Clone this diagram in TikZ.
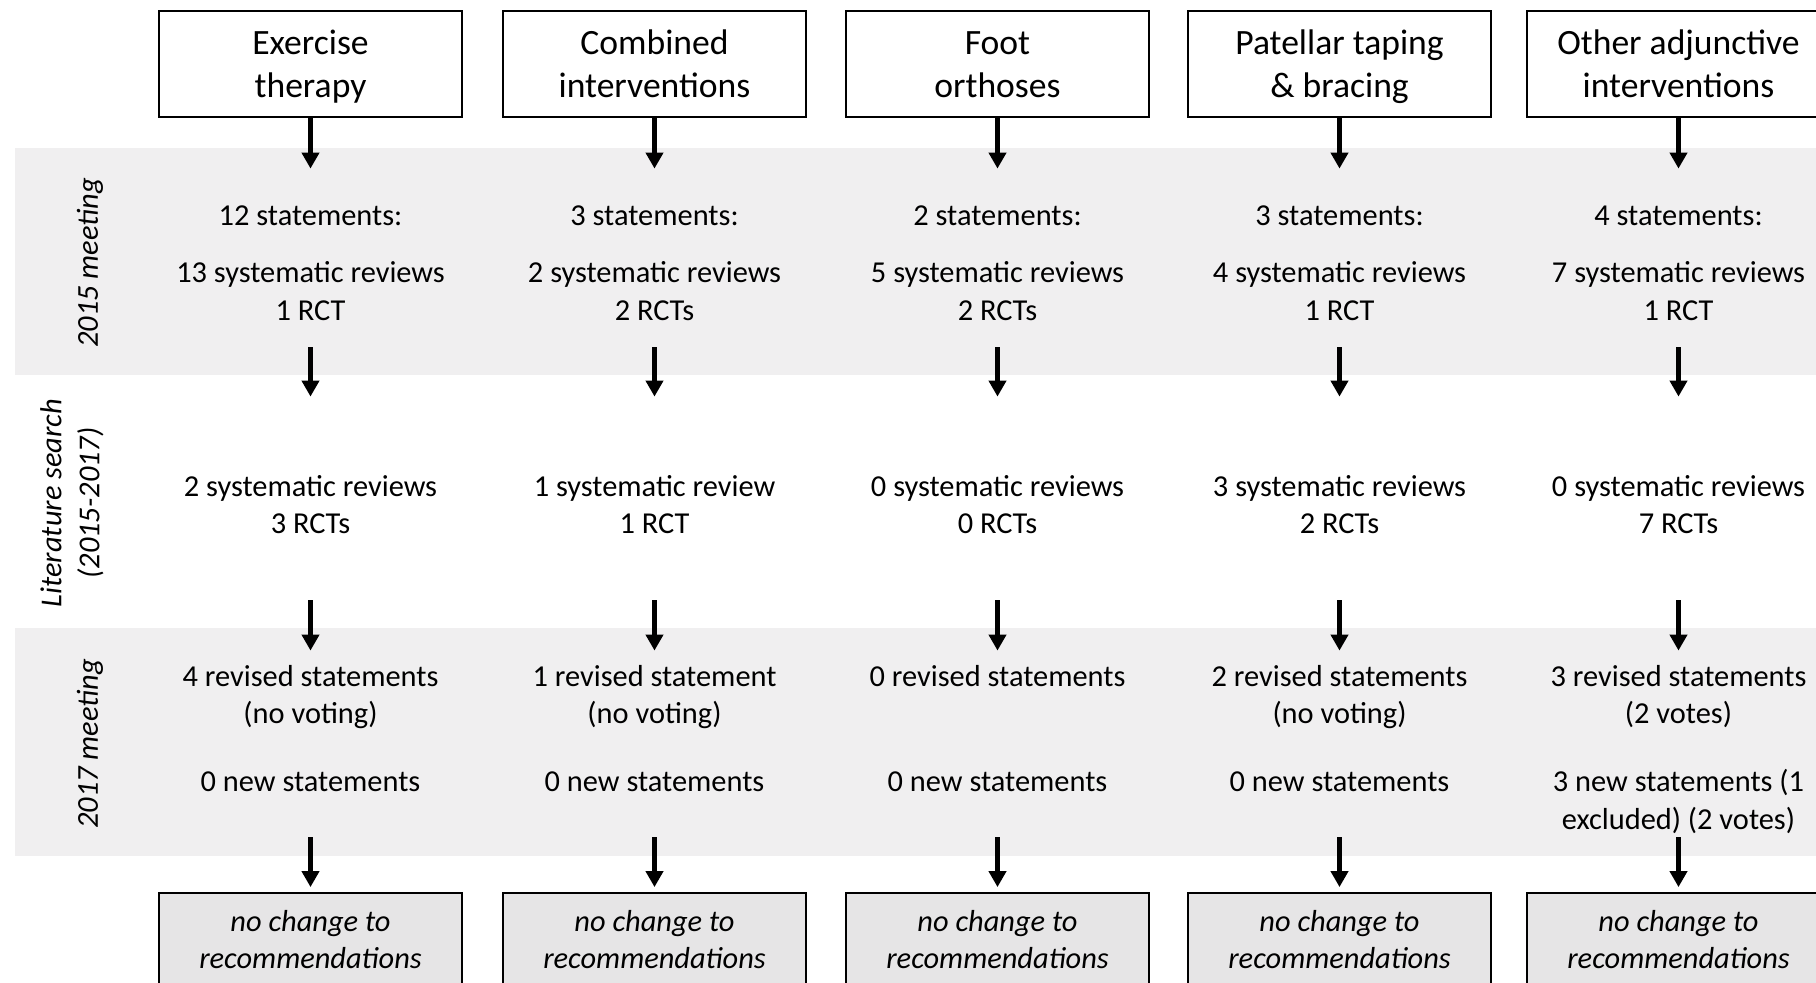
\documentclass[tikz,border=0pt]{standalone}
\usepackage{fontspec}
\setmainfont{Carlito}
\usetikzlibrary{arrows.meta}
\definecolor{bandgray}{HTML}{F0EFF0}
\definecolor{boxgray}{HTML}{E6E5E6}
\newcommand\stA[3]{\parbox[c][89pt][t]{160pt}{\centering\vspace*{15.3pt}\strut #1\\[9.5pt]\strut #2\\\strut #3}}
\newcommand\stB[2]{\parbox[c][101.5pt][t]{160pt}{\centering\vspace*{36.5pt}\strut #1\\\strut #2}}
\newcommand\stC[4]{\parbox[c][93pt][t]{160pt}{\centering\vspace*{4.5pt}\strut #1\\\strut #2\\[15.2pt]\strut #3\\\strut #4}}
\newcommand\topstrut{\rule{0pt}{18.5pt}}
\newcommand\botstrut{\rule{0pt}{15.8pt}}
\tikzset{
  topbox/.style={draw, line width=0.9pt, minimum width=151.5pt, minimum height=53pt, inner sep=0pt, align=center, font=\fontsize{17.8pt}{21.5pt}\selectfont},
  botbox/.style={draw, fill=boxgray, line width=0.9pt, minimum width=151.5pt, minimum height=47pt, inner sep=0pt, align=center, font=\fontsize{15.2pt}{18.8pt}\selectfont\itshape},
  stage/.style={inner sep=0pt, font=\fontsize{15.2pt}{18.8pt}\selectfont},
  sidelabel/.style={rotate=90, align=center, inner sep=0pt, font=\fontsize{15.2pt}{19pt}\selectfont\itshape},
  arr/.style={line width=2.4pt, -{Triangle[width=8.5pt, length=8pt]}},
}
\begin{document}
\begin{tikzpicture}[x=0.5pt, y=-0.5pt]
\useasboundingbox (0,0) rectangle (1816,983);
\clip (0,0) rectangle (1816,983);
% bands
\fill[bandgray] (15,148) rectangle (1816,375);
\fill[bandgray] (15,628) rectangle (1816,856);
% side labels
\node[sidelabel] (l15) at (90,263) {2015 meeting};
\node[sidelabel] (llit) at (72,503) {Literature search\\(2015-2017)};
\node[sidelabel] (l17) at (90,744) {2017 meeting};
% column 1
\node[topbox] (t1) at (310.5,64) {\topstrut Exercise\\\strut therapy};
\node[stage] (a1) at (310.5,258) {\stA{12 statements:}{13 systematic reviews}{1 RCT}};
\node[stage] (b1) at (310.5,498.5) {\stB{2 systematic reviews}{3 RCTs}};
\node[stage] (c1) at (310.5,744) {\stC{4 revised statements}{(no voting)}{0 new statements}{}};
\node[botbox] (e1) at (310.5,940) {\botstrut no change to\\\strut recommendations};
% column 2
\node[topbox] (t2) at (654.5,64) {\topstrut Combined\\\strut interventions};
\node[stage] (a2) at (654.5,258) {\stA{3 statements:}{2 systematic reviews}{2 RCTs}};
\node[stage] (b2) at (654.5,498.5) {\stB{1 systematic review}{1 RCT}};
\node[stage] (c2) at (654.5,744) {\stC{1 revised statement}{(no voting)}{0 new statements}{}};
\node[botbox] (e2) at (654.5,940) {\botstrut no change to\\\strut recommendations};
% column 3
\node[topbox] (t3) at (997.5,64) {\topstrut Foot\\\strut orthoses};
\node[stage] (a3) at (997.5,258) {\stA{2 statements:}{5 systematic reviews}{2 RCTs}};
\node[stage] (b3) at (997.5,498.5) {\stB{0 systematic reviews}{0 RCTs}};
\node[stage] (c3) at (997.5,744) {\stC{0 revised statements}{}{0 new statements}{}};
\node[botbox] (e3) at (997.5,940) {\botstrut no change to\\\strut recommendations};
% column 4
\node[topbox] (t4) at (1339.5,64) {\topstrut Patellar taping\\\strut \& bracing};
\node[stage] (a4) at (1339.5,258) {\stA{3 statements:}{4 systematic reviews}{1 RCT}};
\node[stage] (b4) at (1339.5,498.5) {\stB{3 systematic reviews}{2 RCTs}};
\node[stage] (c4) at (1339.5,744) {\stC{2 revised statements}{(no voting)}{0 new statements}{}};
\node[botbox] (e4) at (1339.5,940) {\botstrut no change to\\\strut recommendations};
% column 5
\node[topbox] (t5) at (1678.5,64) {\topstrut Other adjunctive\\\strut interventions};
\node[stage] (a5) at (1678.5,258) {\stA{4 statements:}{7 systematic reviews}{1 RCT}};
\node[stage] (b5) at (1678.5,498.5) {\stB{0 systematic reviews}{7 RCTs}};
\node[stage] (c5) at (1678.5,744) {\stC{3 revised statements}{(2 votes)}{3 new statements (1}{excluded) (2 votes)}};
\node[botbox] (e5) at (1678.5,940) {\botstrut no change to\\\strut recommendations};
% arrows
\foreach \i in {1,...,5}{
  \draw[arr] (t\i.south) -- (a\i.north);
  \draw[arr] (a\i.south) -- (b\i.north);
  \draw[arr] (b\i.south) -- (c\i.north);
  \draw[arr, shorten >=2.5pt] (c\i.south) -- (e\i.north);
}
\end{tikzpicture}
\end{document}
